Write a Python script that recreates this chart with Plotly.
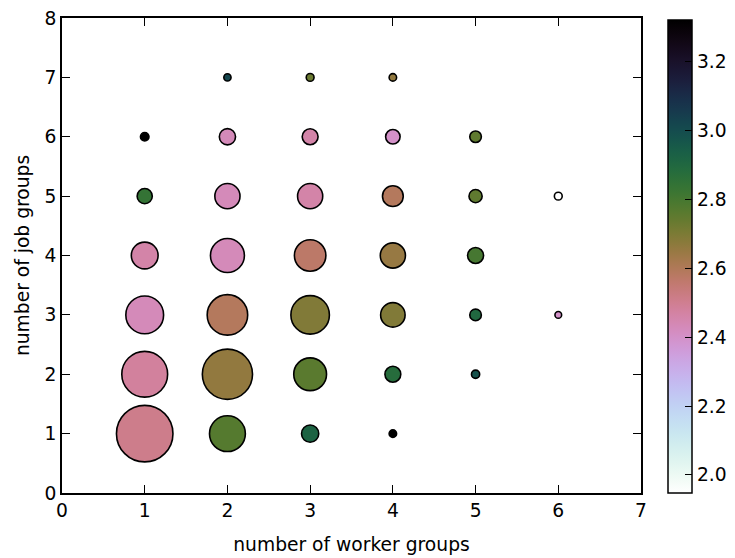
import numpy as np
import plotly.graph_objects as go

# number of worker groups (x), number of job groups (y)
worker_groups = [1, 2, 3, 4,
                 1, 2, 3, 4, 5,
                 1, 2, 3, 4, 5, 6,
                 1, 2, 3, 4, 5,
                 1, 2, 3, 4, 5, 6,
                 1, 2, 3, 4, 5,
                 2, 3, 4]
job_groups = [1, 1, 1, 1,
              2, 2, 2, 2, 2,
              3, 3, 3, 3, 3, 3,
              4, 4, 4, 4, 4,
              5, 5, 5, 5, 5, 5,
              6, 6, 6, 6, 6,
              7, 7, 7]
# bubble weight (area-like)
bubble_weight = [57, 23, 5.3, 1.0,
                 37.5, 45, 19.2, 4.5, 1.2,
                 25.5, 29.3, 26.5, 10.7, 2.4, 0.8,
                 12.8, 20.6, 17.7, 11.3, 4.6,
                 4.1, 11.3, 11.3, 7.7, 3.1, 1.1,
                 1.3, 4.7, 4.5, 3.75, 2.4,
                 0.93, 1.1, 1.0]
# colour value
color_value = [2.51, 2.77, 2.92, 3.321,
               2.48, 2.66, 2.76, 2.88, 2.98,
               2.43, 2.59, 2.69, 2.69, 2.90, 2.40,
               2.46, 2.43, 2.57, 2.65, 2.80,
               2.84, 2.43, 2.46, 2.59, 2.75, 1.947,
               3.321, 2.43, 2.46, 2.40, 2.75,
               3.02, 2.73, 2.66]

colorbar_ticks = [2.0, 2.2, 2.4, 2.6, 2.8, 3.0, 3.2]


def cubehelix_r(n=48, gamma=1.0, s=0.5, r=-1.5, h=1.0):
    scale = []
    for i in range(n):
        t = i / (n - 1)
        x = 1 - t
        xg = x ** gamma
        a = h * xg * (1 - xg) / 2
        phi = 2 * np.pi * (s / 3 + r * x)
        R = xg + a * (-0.14861 * np.cos(phi) + 1.78277 * np.sin(phi))
        G = xg + a * (-0.29227 * np.cos(phi) - 0.90649 * np.sin(phi))
        B = xg + a * (1.97294 * np.cos(phi))
        rgb = [int(round(255 * min(max(c, 0), 1))) for c in (R, G, B)]
        scale.append([t, f"rgb({rgb[0]},{rgb[1]},{rgb[2]})"])
    return scale


sizes = np.sqrt(np.array(bubble_weight) * 56.0)

font = dict(family="DejaVu Sans", size=18.7, color="black")

fig = go.Figure()
fig.add_trace(go.Scatter(
    x=worker_groups, y=job_groups, mode="markers",
    marker=dict(
        size=sizes, color=color_value, colorscale=cubehelix_r(),
        cmin=min(color_value), cmax=max(color_value),
        line=dict(color="black", width=1.6), opacity=1,
        colorbar=dict(
            x=(668 - 62) / 579, xanchor="left", xpad=0,
            y=0.4975, yanchor="middle", len=0.996, lenmode="fraction",
            thickness=24, outlinewidth=1.5, outlinecolor="black",
            ticks="inside", ticklen=7, tickcolor="black", tickwidth=1,
            tickvals=colorbar_ticks, tickformat=".1f",
            tickfont=font, ypad=0,
        ),
    ),
    showlegend=False, hoverinfo="skip",
))

axis_common = dict(
    showline=True, linecolor="black", linewidth=1.6, mirror="allticks",
    ticks="inside", ticklen=8, tickwidth=1, tickcolor="black",
    showgrid=False, zeroline=False, tickfont=font, dtick=1, automargin=False,
    ticklabeloverflow="allow",
)

# page body has an 8px margin, so the figure is sized/placed to compensate
fig.update_layout(
    width=727, height=550,
    margin=dict(l=54, r=94, t=10, b=65, autoexpand=False),
    paper_bgcolor="white", plot_bgcolor="white",
    font=font,
    xaxis=dict(range=[0, 7], title=dict(text="number of worker groups", font=font, standoff=18), **axis_common),
    yaxis=dict(range=[0, 8], title=dict(text="number of job groups", font=font, standoff=10), **axis_common),
)

fig.write_html("out.html")
